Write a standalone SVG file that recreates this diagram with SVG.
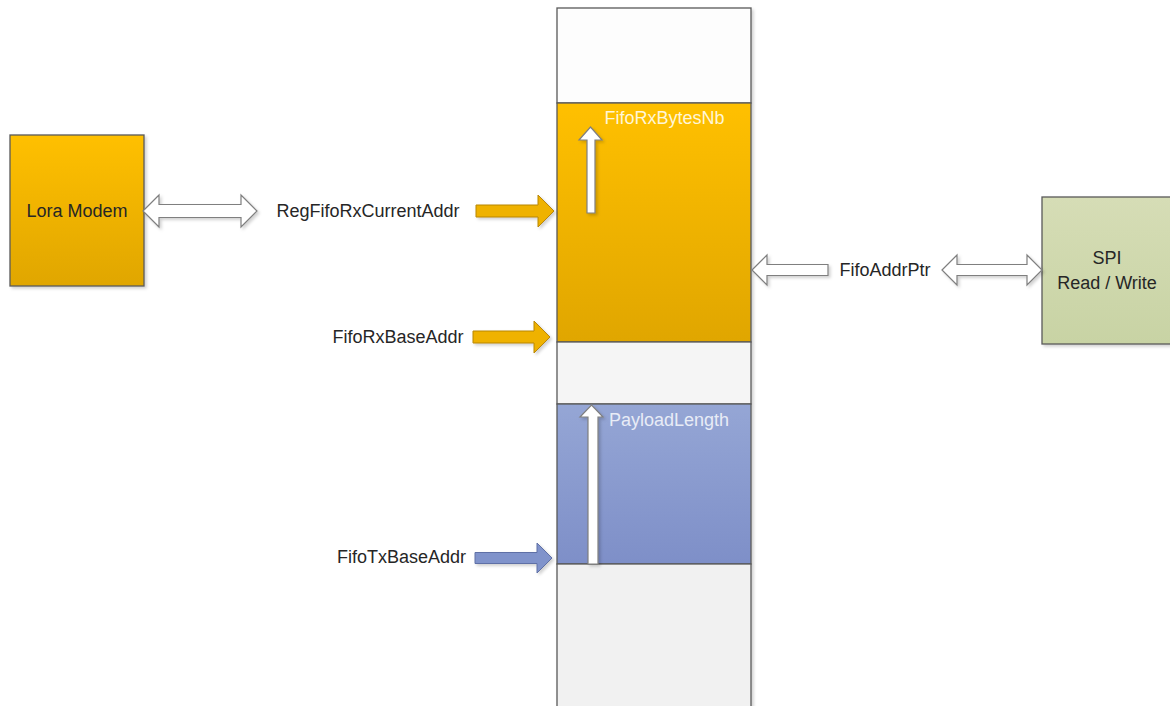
<svg xmlns="http://www.w3.org/2000/svg" width="1170" height="706" viewBox="0 0 1170 706">
<style>
text{font-family:"Liberation Sans",Arial,sans-serif;font-size:18px;fill:#262626}
.lbl{text-anchor:middle}
.inner{fill:#FFF6D8}
.inner2{fill:#E8ECF6}
.wa{fill:#FFFFFF;stroke:#7F7F7F;stroke-width:1.2}
.oa{fill:#EFB200;stroke:#B8860B;stroke-width:1}
.ba{fill:#8093CB;stroke:#5E70A6;stroke-width:1}
.seg{stroke:#595959;stroke-width:1.3}
</style>
<defs>
<linearGradient id="gOr" x1="0" y1="0" x2="0" y2="1"><stop offset="0" stop-color="#FFC000"/><stop offset="1" stop-color="#E0A600"/></linearGradient>
<linearGradient id="gBl" x1="0" y1="0" x2="0" y2="1"><stop offset="0" stop-color="#95A6D5"/><stop offset="1" stop-color="#7E8FC8"/></linearGradient>
<linearGradient id="gGr" x1="0" y1="0" x2="0" y2="1"><stop offset="0" stop-color="#D6DDB6"/><stop offset="1" stop-color="#C8D3A4"/></linearGradient>
<filter id="sh" x="-10%" y="-10%" width="130%" height="130%"><feDropShadow dx="2" dy="2" stdDeviation="1.5" flood-color="#000" flood-opacity="0.18"/></filter>
</defs>
<rect width="1170" height="706" fill="#FFFFFF"/>

<g id="fifo" filter="url(#sh)">
<rect x="557" y="8" width="194" height="95" fill="#FDFDFD" class="seg"/>
<rect x="557" y="103" width="194" height="239" fill="url(#gOr)" class="seg"/>
<rect x="557" y="342" width="194" height="62" fill="#F5F5F5" class="seg"/>
<rect x="557" y="404" width="194" height="160" fill="url(#gBl)" class="seg"/>
<rect x="557" y="564" width="194" height="160" fill="#F1F1F1" class="seg"/>
</g>

<g id="lora-modem">
<rect x="10" y="135" width="134" height="151" fill="url(#gOr)" stroke="#595959" stroke-width="1.3" filter="url(#sh)"/>
<text class="lbl" x="77" y="217">Lora Modem</text>
</g>

<g id="spi">
<rect x="1042" y="197" width="140" height="147" fill="url(#gGr)" stroke="#595959" stroke-width="1.3" filter="url(#sh)"/>
<text class="lbl" x="1107" y="264">SPI</text>
<text class="lbl" x="1107" y="289">Read / Write</text>
</g>

<g id="labels">
<text class="lbl" x="368" y="217">RegFifoRxCurrentAddr</text>
<text class="lbl" x="398" y="343">FifoRxBaseAddr</text>
<text class="lbl" x="401.5" y="563">FifoTxBaseAddr</text>
<text class="lbl" x="885" y="276">FifoAddrPtr</text>
<text class="lbl inner" x="664.5" y="124">FifoRxBytesNb</text>
<text class="lbl inner2" x="669" y="426">PayloadLength</text>
</g>

<g id="connectors" filter="url(#sh)">
<path class="wa" d="M143,211 L159,195 L159,204.5 L241,204.5 L241,195 L257,211 L241,227 L241,217.5 L159,217.5 L159,227 Z"/>
<path class="oa" d="M476,205 L538,205 L538,195 L554,211 L538,227 L538,217 L476,217 Z"/>
<path class="oa" d="M473,331 L534,331 L534,321 L550,337 L534,353 L534,343 L473,343 Z"/>
<path class="ba" d="M475,552.5 L537,552.5 L537,543 L552,558 L537,573 L537,563.5 L475,563.5 Z"/>
<path class="wa" d="M587,213 L587,140 L579,140 L590.5,127 L602,140 L595,140 L595,213 Z"/>
<path class="wa" d="M588,564 L588,417 L580,417 L591.5,405 L603,417 L598,417 L598,564 Z"/>
<path class="wa" d="M752,270 L767,255 L767,264.5 L828,264.5 L828,275.5 L767,275.5 L767,285 Z"/>
<path class="wa" d="M942,270 L957,255 L957,264.5 L1027,264.5 L1027,255 L1042,270 L1027,285 L1027,275.5 L957,275.5 L957,285 Z"/>
</g>
</svg>
